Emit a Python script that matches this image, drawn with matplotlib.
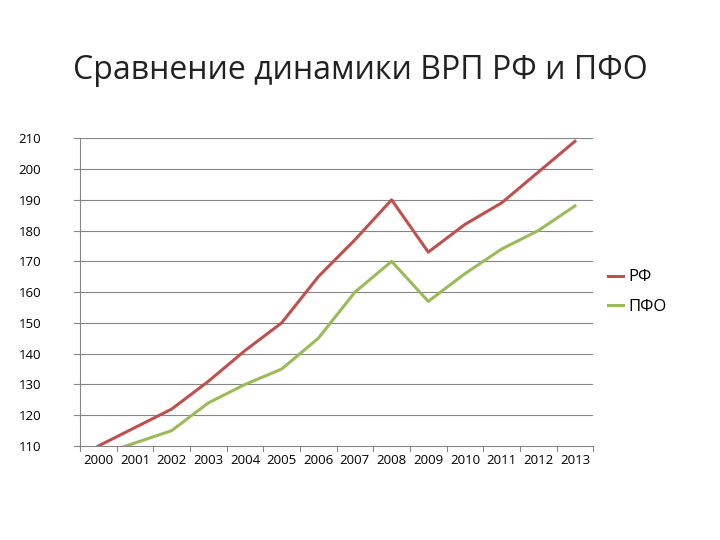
import matplotlib
matplotlib.use("Agg")
from matplotlib import pyplot as plt

years = [str(y) for y in range(2000, 2014)]
rf = [110, 116, 122, 131, 141, 150, 165, 177, 190, 173, 182, 189, 199, 209]
pfo = [107, 111, 115, 124, 130, 135, 145, 160, 170, 157, 166, 174, 180, 188]

plt.rcParams['font.family'] = ['Open Sans', 'DejaVu Sans']
fig = plt.figure(figsize=(7.2, 5.4), dpi=100)
ax = fig.add_axes([0.111, 0.174, 0.713, 0.570])

x = list(range(len(years)))
ax.plot(x, rf, color='#c0504d', lw=2.2, label='РФ')
ax.plot(x, pfo, color='#9bbb59', lw=2.2, label='ПФО')

ax.set_xlim(-0.5, len(years) - 0.5)
ax.set_ylim(110, 210)
ax.set_yticks(range(110, 211, 10))
ax.set_xticks(x)
ax.set_xticklabels(years, fontsize=9.5)
ax.tick_params(axis='y', labelsize=9.5, length=0, pad=28)
ax.tick_params(axis='x', length=0, pad=6)
for yv in range(120, 211, 10):
    ax.axhline(yv, color='#868686', lw=0.8, zorder=0)
for s in ['top', 'right']:
    ax.spines[s].set_visible(False)
ax.spines['left'].set_color('#868686')
ax.spines['bottom'].set_color('#868686')
for i in range(len(years) + 1):
    ax.plot([i - 0.5, i - 0.5], [110, 108.5], color='#868686', lw=0.8, clip_on=False)
for yv in range(110, 211, 10):
    ax.plot([-0.5, -0.65], [yv, yv], color='#868686', lw=0.8, clip_on=False)

ax.legend(loc='center left', bbox_to_anchor=(1.0, 0.5), frameon=False,
          fontsize=12, handlelength=0.9, handletextpad=0.3, labelspacing=0.8)
fig.text(0.5, 0.87, 'Сравнение динамики ВРП РФ и ПФО', ha='center', va='center',
         fontsize=23, color='#222222')
fig.savefig('out.png')
